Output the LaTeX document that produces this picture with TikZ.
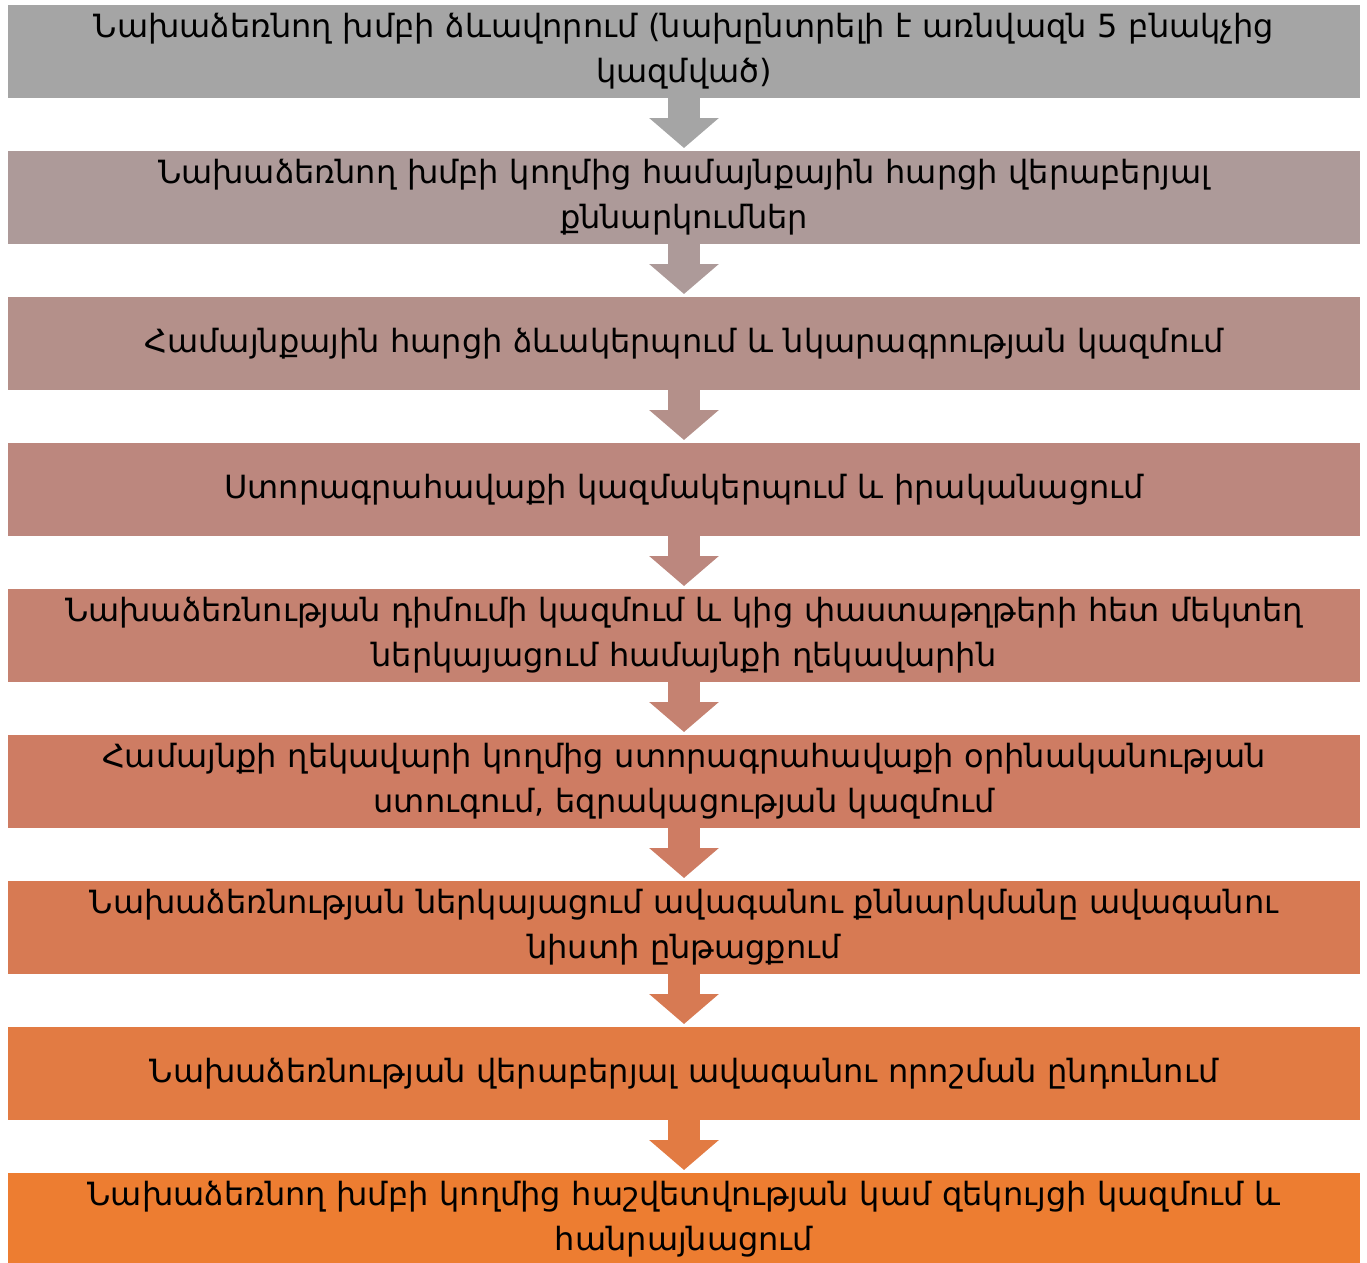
\documentclass[tikz,border=0pt]{standalone}
\usepackage{fontspec}
\setmainfont{DejaVu Sans}
\usetikzlibrary{positioning,arrows.meta}
\definecolor{st1}{HTML}{A5A5A5}
\definecolor{st2}{HTML}{AD9A99}
\definecolor{st3}{HTML}{B4908A}
\definecolor{st4}{HTML}{BC877E}
\definecolor{st5}{HTML}{C58271}
\definecolor{st6}{HTML}{CE7C63}
\definecolor{st7}{HTML}{D77A53}
\definecolor{st8}{HTML}{E27B43}
\definecolor{st9}{HTML}{ED7D31}
\begin{document}
\begin{tikzpicture}[x=1pt,y=1pt]
    \tikzset{stage/.style={minimum width=1352pt,minimum height=93pt,inner sep=0pt,outer sep=0pt,
      text width=1345pt,align=center,font=\fontsize{32}{45}\selectfont},
    flow/.style={line width=32pt,-{Triangle[width=68pt,length=30pt]}}}
    \useasboundingbox (0,0) rectangle (1367,-1262);
    \node[stage,fill=st1] (b1) at (684,-51.5) {Նախաձեռնող խմբի ձևավորում (նախընտրելի է առնվազն 5 բնակչից\\կազմված)};
    \node[stage,fill=st2] (b2) [below=53pt of b1] {Նախաձեռնող խմբի կողմից համայնքային հարցի վերաբերյալ\\քննարկումներ};
    \node[stage,fill=st3] (b3) [below=53pt of b2] {Համայնքային հարցի ձևակերպում և նկարագրության կազմում};
    \node[stage,fill=st4] (b4) [below=53pt of b3] {Ստորագրահավաքի կազմակերպում և իրականացում};
    \node[stage,fill=st5] (b5) [below=53pt of b4] {Նախաձեռնության դիմումի կազմում և կից փաստաթղթերի հետ մեկտեղ\\ներկայացում համայնքի ղեկավարին};
    \node[stage,fill=st6] (b6) [below=53pt of b5] {Համայնքի ղեկավարի կողմից ստորագրահավաքի օրինականության\\ստուգում, եզրակացության կազմում};
    \node[stage,fill=st7] (b7) [below=53pt of b6] {Նախաձեռնության ներկայացում ավագանու քննարկմանը ավագանու\\նիստի ընթացքում};
    \node[stage,fill=st8] (b8) [below=53pt of b7] {Նախաձեռնության վերաբերյալ ավագանու որոշման ընդունում};
    \node[stage,fill=st9] (b9) [below=53pt of b8] {Նախաձեռնող խմբի կողմից հաշվետվության կամ զեկույցի կազմում և\\հանրայնացում};

    \draw[flow,st1] (b1.south) -- ([yshift=3pt]b2.north);
    \draw[flow,st2] (b2.south) -- ([yshift=3pt]b3.north);
    \draw[flow,st3] (b3.south) -- ([yshift=3pt]b4.north);
    \draw[flow,st4] (b4.south) -- ([yshift=3pt]b5.north);
    \draw[flow,st5] (b5.south) -- ([yshift=3pt]b6.north);
    \draw[flow,st6] (b6.south) -- ([yshift=3pt]b7.north);
    \draw[flow,st7] (b7.south) -- ([yshift=3pt]b8.north);
    \draw[flow,st8] (b8.south) -- ([yshift=3pt]b9.north);
\end{tikzpicture}
\end{document}
